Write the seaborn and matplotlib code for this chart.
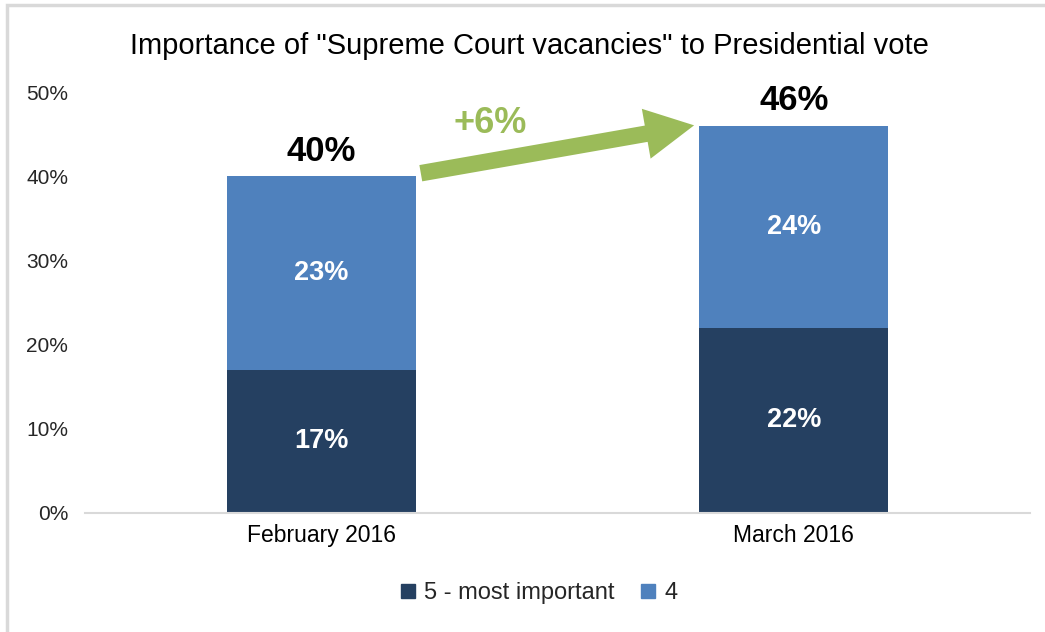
import pandas as pd
import seaborn as sns
import matplotlib.pyplot as plt
from matplotlib.patches import Rectangle, FancyArrowPatch
from matplotlib.lines import Line2D

months = ["February 2016", "March 2016"]
most_important = [17, 22]   # "5 - most important"
four = [23, 24]             # "4"
change_label = "+6%"

dark = "#254061"
light = "#4F81BD"
green = "#9BBB59"

totals = [a + b for a, b in zip(most_important, four)]
df = pd.DataFrame({"month": months, "top": most_important, "four": four, "total": totals})

sns.set_style("white")
plt.rcParams["font.family"] = ["Liberation Sans", "DejaVu Sans"]

fig = plt.figure(figsize=(10.45, 6.32), dpi=100)
ax = fig.add_axes([0.0813, 0.1883, 0.9043, 0.6661])

# stacked bars: full height in light blue, bottom segment in dark blue
sns.barplot(data=df, x="month", y="total", color=light, width=0.4, saturation=1,
            linewidth=0, ax=ax)
sns.barplot(data=df, x="month", y="top", color=dark, width=0.4, saturation=1,
            linewidth=0, ax=ax)

ax.set_xlim(-0.5, 1.5)
ax.set_ylim(0, 50)
ax.set_yticks(range(0, 51, 10))
ax.set_yticklabels([f"{v}%" for v in range(0, 51, 10)], fontsize=15, color="#262626")
ax.tick_params(axis="y", length=0, pad=12)
ax.tick_params(axis="x", which="major", length=0, labelsize=16.5, pad=8, labelcolor="black")
ax.set_xticks([-0.5, 0.5, 1.5], minor=True)
ax.tick_params(axis="x", which="minor", length=6, color="#D9D9D9", width=1.5)
ax.set_xlabel("")
ax.set_ylabel("")
for s in ["left", "right", "top"]:
    ax.spines[s].set_visible(False)
ax.spines["bottom"].set_color("#D9D9D9")
ax.spines["bottom"].set_linewidth(1.5)

for i in range(len(months)):
    ax.text(i, most_important[i] / 2, f"{most_important[i]}%", ha="center", va="center",
            color="white", fontsize=19.5, fontweight="bold")
    ax.text(i, most_important[i] + four[i] / 2, f"{four[i]}%", ha="center", va="center",
            color="white", fontsize=19.5, fontweight="bold")
    ax.text(i, totals[i] + 1.0, f"{totals[i]}%", ha="center", va="bottom",
            color="black", fontsize=25, fontweight="bold")

arrow = FancyArrowPatch((0.205, totals[0] + 0.3), (0.795, totals[1] + 0.1),
                        arrowstyle="simple,head_width=2.6,head_length=2.5,tail_width=0.85",
                        mutation_scale=14, color=green, lw=0)
ax.add_patch(arrow)
ax.text(0.357, 46.3, change_label, ha="center", va="center", color=green,
        fontsize=26, fontweight="bold")

fig.suptitle('Importance of "Supreme Court vacancies" to Presidential vote',
             x=0.507, y=0.928, va="center", fontsize=21, color="black")

handles = [Line2D([], [], marker="s", ls="", color=dark, markersize=10),
           Line2D([], [], marker="s", ls="", color=light, markersize=10)]
fig.legend(handles, ["5 - most important", "4"], loc="center", bbox_to_anchor=(0.516, 0.062),
           ncol=2, frameon=False, fontsize=17, handlelength=0.6, handletextpad=0.4,
           columnspacing=1.1)

fig.add_artist(Rectangle((0.0067, -0.01), 1.1, 1.002, transform=fig.transFigure,
                         fill=False, edgecolor="#D9D9D9", lw=2.5))

fig.savefig("out.png", dpi=100)
